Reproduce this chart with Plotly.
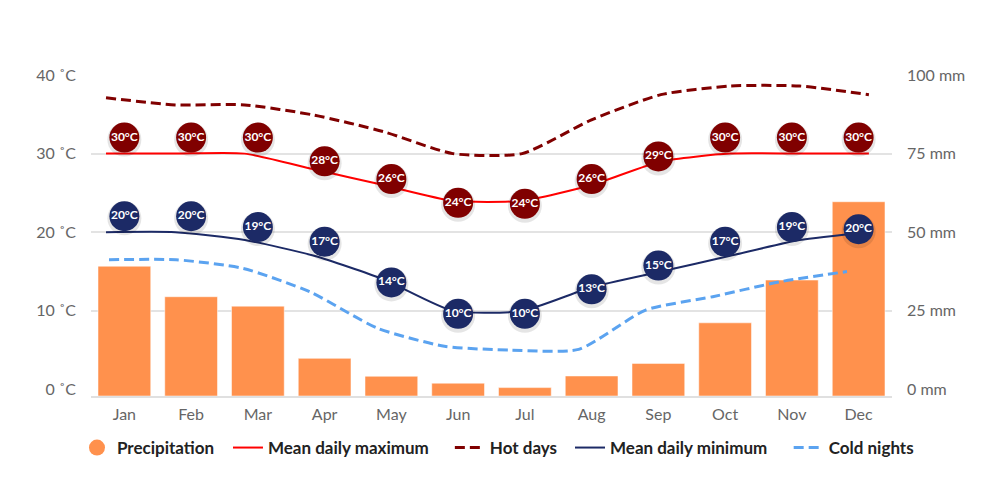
import numpy as np
import plotly.graph_objects as go

# данные
months = ["Jan", "Feb", "Mar", "Apr", "May", "Jun", "Jul", "Aug", "Sep", "Oct", "Nov", "Dec"]
precip_mm = [39.2, 29.5, 26.5, 9.9, 4.2, 2.0, 0.6, 4.3, 8.3, 21.2, 34.8, 59.7]
mean_max = [30, 30, 30, 28, 26, 24, 24, 26, 29, 30, 30, 30]
mean_min = [20, 20, 19, 17, 14, 10, 10, 13, 15, 17, 19, 20]
hot_days = [37.1, 36.2, 36.2, 34.9, 32.8, 30.0, 30.0, 34.3, 37.5, 38.6, 38.6, 37.5]
cold_nights = [16.5, 16.5, 15.4, 12.4, 7.8, 5.5, 5.0, 5.1, 10.1, 11.8, 13.7, 15.0]

temp_ticks = [0, 10, 20, 30, 40]
mm_ticks = [0, 25, 50, 75, 100]

# оформление
ORANGE = "#FF914D"
RED = "#FF0000"
DARK_RED = "#800000"
NAVY = "#1C2A66"
LIGHT_BLUE = "#5BA3F0"
FONT = "Lato"
DASH = "10px,5px"

T_RANGE = [-0.83, 40]
MM_RANGE = [-2.07, 100]
PX_PER_DEG = 321 / (T_RANGE[1] - T_RANGE[0])

# линии идут чуть шире, чем центры категорий
line_x = -0.275 + 1.039 * np.arange(12)
cold_x = -0.23 + 1.005 * np.arange(12)
idx = np.arange(12)

# подъём кружков-подписей над линией, в пикселях
max_lift = [16, 16, 16, 8, 6, -2, -3, 6, 5, 16, 16, 16]
min_lift = [16, 16, 13, 14, -3, -3, -3, -2, 6, 14, 13, 3]

# позиции элементов легенды (доля ширины области графика)
legend_x = [-0.0175, 0.171, 0.448, 0.598, 0.871]

fig = go.Figure()

# столбики осадков (правая ось, мм)
fig.add_trace(go.Bar(
    x=idx,
    y=[p - MM_RANGE[0] for p in precip_mm],
    base=MM_RANGE[0],
    marker=dict(color=ORANGE, line=dict(color="rgba(255,255,255,0.5)", width=1)),
    width=0.79,
    name="Precipitation",
    showlegend=False,
    yaxis="y",
))

# значок легенды для осадков (кружок)
fig.add_trace(go.Scatter(
    x=[None], y=[None], mode="markers",
    marker=dict(symbol="circle", size=16, color=ORANGE),
    name="Precipitation", yaxis="y2", legend="legend",
))

fig.add_trace(go.Scatter(
    x=line_x, y=mean_max, mode="lines",
    line=dict(color=RED, width=2, shape="spline", smoothing=0.6),
    name="Mean daily maximum", yaxis="y2", legend="legend2",
))
fig.add_trace(go.Scatter(
    x=line_x, y=hot_days, mode="lines",
    line=dict(color=DARK_RED, width=3, dash=DASH, shape="spline", smoothing=0.6),
    name="Hot days", yaxis="y2", legend="legend3",
))
fig.add_trace(go.Scatter(
    x=line_x, y=mean_min, mode="lines",
    line=dict(color=NAVY, width=2, shape="spline", smoothing=0.6),
    name="Mean daily minimum", yaxis="y2", legend="legend4",
))
fig.add_trace(go.Scatter(
    x=cold_x, y=cold_nights, mode="lines",
    line=dict(color=LIGHT_BLUE, width=3, dash=DASH, shape="spline", smoothing=0.6),
    name="Cold nights", yaxis="y2", legend="legend5",
))

# кружки с подписями (с лёгкой тенью)
for vals, lift, col in [(mean_max, max_lift, DARK_RED), (mean_min, min_lift, NAVY)]:
    fig.add_trace(go.Scatter(
        x=idx,
        y=[v + (l - 2) / PX_PER_DEG for v, l in zip(vals, lift)],
        mode="markers",
        marker=dict(size=34, color="rgba(0,0,0,0.10)", line=dict(width=0)),
        showlegend=False, hoverinfo="skip", yaxis="y2",
    ))
    fig.add_trace(go.Scatter(
        x=idx,
        y=[v + l / PX_PER_DEG for v, l in zip(vals, lift)],
        mode="markers+text",
        marker=dict(size=30, color=col, line=dict(width=0)),
        text=[f"{v}°C" for v in vals],
        textposition="middle center",
        textfont=dict(family=FONT, size=12, color="white", weight="bold"),
        showlegend=False, hoverinfo="skip", yaxis="y2",
    ))

legend_style = dict(
    orientation="h", xanchor="left", y=-0.162, yanchor="middle",
    font=dict(family=FONT, size=17, color="#222222", weight="bold"),
    bgcolor="rgba(0,0,0,0)",
)

# страница сдвигает график на 8px (отступ body), поэтому поля смещены
fig.update_layout(
    width=1000, height=504,
    margin=dict(l=83, r=116, t=67, b=116),
    paper_bgcolor="white", plot_bgcolor="white",
    font=dict(family=FONT, color="#666666"),
    bargap=0.2,
    xaxis=dict(
        range=[-0.5, 11.5], tickvals=list(idx), ticktext=months,
        showgrid=False, zeroline=False,
        showline=True, linecolor="#e0e0e0", linewidth=2,
        tickfont=dict(size=16, color="#666666"),
        ticklabelstandoff=3,
    ),
    yaxis=dict(
        side="right", range=MM_RANGE,
        tickvals=mm_ticks, ticktext=[f"{t} mm" for t in mm_ticks],
        showgrid=False, zeroline=False,
        minor=dict(tickvals=mm_ticks[1:], showgrid=True, gridcolor="#e3e3e3", gridwidth=2),
        tickfont=dict(size=16, color="#666666"),
        ticklabelstandoff=14,
    ),
    yaxis2=dict(
        side="left", overlaying="y", range=T_RANGE,
        tickvals=temp_ticks, ticktext=[f"{t} ˚C" for t in temp_ticks],
        showgrid=False, zeroline=False,
        tickfont=dict(size=16, color="#666666"),
        ticklabelstandoff=14,
    ),
    legend=dict(legend_style, x=legend_x[0]),
    legend2=dict(legend_style, x=legend_x[1]),
    legend3=dict(legend_style, x=legend_x[2]),
    legend4=dict(legend_style, x=legend_x[3]),
    legend5=dict(legend_style, x=legend_x[4]),
)

fig.write_html("out.html")
